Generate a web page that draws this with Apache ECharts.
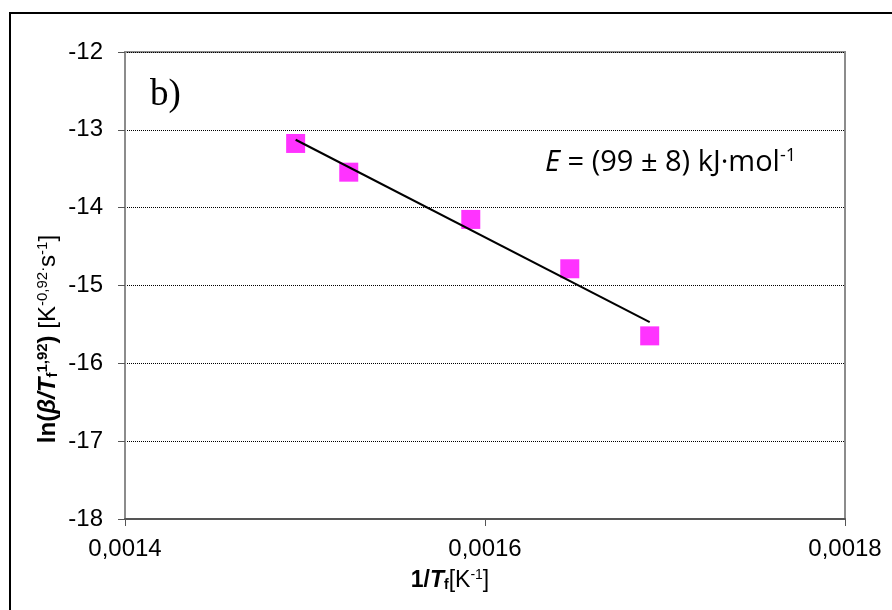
<!DOCTYPE html>
<html>
<head>
<meta charset="utf-8">
<script src="https://cdn.jsdelivr.net/npm/echarts@6/dist/echarts.min.js"></script>
<style>
  html, body { margin: 0; padding: 0; background: #fff; }
  #chart { width: 892px; height: 610px; }
</style>
</head>
<body>
<div id="chart"></div>
<script>
// Reciprocal peak temperature 1/Tf [K^-1]
const inverseTemp = [0.0014948, 0.0015243, 0.0015921, 0.0016471, 0.0016915];
// ln(beta / Tf^1.92)
const lnRate = [-13.175, -13.544, -14.151, -14.785, -15.647];
// Axis tick values
const xTicks = [0.0014, 0.0016, 0.0018];
const yTicks = [-18, -17, -16, -15, -14, -13, -12];

// Least-squares line through the measured points
function linearFit(xs, ys) {
  const n = xs.length;
  const mx = xs.reduce((a, b) => a + b, 0) / n;
  const my = ys.reduce((a, b) => a + b, 0) / n;
  let sxy = 0, sxx = 0;
  for (let i = 0; i < n; i++) {
    sxy += (xs[i] - mx) * (ys[i] - my);
    sxx += (xs[i] - mx) * (xs[i] - mx);
  }
  const slope = sxy / sxx;
  return { slope, intercept: my - slope * mx };
}
const fit = linearFit(inverseTemp, lnRate);
const xLo = Math.min(...inverseTemp), xHi = Math.max(...inverseTemp);
const fitLine = [[xLo, fit.intercept + fit.slope * xLo], [xHi, fit.intercept + fit.slope * xHi]];

const points = inverseTemp.map((x, i) => [x, lnRate[i]]);

const chart = echarts.init(document.getElementById('chart'), null, { renderer: 'canvas' });

const axisFont = 'Liberation Sans, Arial, sans-serif';

// Rich-text styles for axis titles: main text, subscript and superscript
function titleRich(size, smallSize, lineH) {
  const base = { fontFamily: axisFont, color: '#000' };
  return {
    b:    Object.assign({}, base, { fontSize: size, fontWeight: 'bold', lineHeight: lineH, verticalAlign: 'bottom' }),
    bi:   Object.assign({}, base, { fontSize: size, fontWeight: 'bold', fontStyle: 'italic', lineHeight: lineH, verticalAlign: 'bottom' }),
    n:    Object.assign({}, base, { fontSize: size, lineHeight: lineH, verticalAlign: 'bottom' }),
    sub:  Object.assign({}, base, { fontSize: smallSize, fontWeight: 'bold', verticalAlign: 'bottom' }),
    bsup: Object.assign({}, base, { fontSize: smallSize, fontWeight: 'bold', verticalAlign: 'top' }),
    sup:  Object.assign({}, base, { fontSize: smallSize, verticalAlign: 'top' })
  };
}

chart.setOption({
  animation: false,
  backgroundColor: '#fff',
  grid: {
    left: 125, right: 47, top: 52, bottom: 91,
    show: true, borderColor: '#8c8c8c', borderWidth: 2, backgroundColor: 'transparent'
  },
  xAxis: {
    type: 'value',
    min: xTicks[0], max: xTicks[xTicks.length - 1], interval: 0.0002,
    axisLine: { show: true, onZero: false, lineStyle: { color: '#555', width: 2 } },
    axisTick: { show: true, length: 7, lineStyle: { color: '#555', width: 1 } },
    axisLabel: {
      margin: 18, fontSize: 24, fontFamily: axisFont, color: '#000',
      formatter: (v) => v.toFixed(4).replace('.', ',')
    },
    splitLine: { show: false }
  },
  yAxis: {
    type: 'value',
    min: yTicks[0], max: yTicks[yTicks.length - 1], interval: 1,
    axisLine: { show: true, lineStyle: { color: '#8c8c8c', width: 2 } },
    axisTick: { show: true, length: 7, lineStyle: { color: '#555', width: 1 } },
    axisLabel: {
      margin: 22, fontSize: 24, fontFamily: axisFont, color: '#000',
      formatter: (v) => String(v)
    },
    splitLine: { show: true, lineStyle: { color: '#000', width: 1, type: [1, 1] } }
  },
  series: [
    {
      type: 'scatter',
      data: points,
      symbol: 'rect',
      symbolSize: 19,
      itemStyle: { color: '#ff00ff' },
      z: 2
    },
    {
      type: 'line',
      data: fitLine,
      showSymbol: false,
      lineStyle: { color: '#000', width: 2 },
      z: 3
    }
  ],
  graphic: [
    {
      type: 'rect', silent: true,
      shape: { x: 10, y: 13, width: 900, height: 620 },
      style: { fill: 'none', stroke: '#000', lineWidth: 2 }
    },
    {
      type: 'text', left: 150, top: 77,
      style: { text: 'b)', font: '37px "Liberation Serif", "Times New Roman", serif', fill: '#000' }
    },
    {
      type: 'text', x: 545, y: 147,
      style: {
        text: '{i|E}{n| = (99 ± 8) kJ·mol}{s|-1}',
        rich: {
          i: { fontSize: 29, fontStyle: 'italic', fontFamily: 'Open Sans, sans-serif', color: '#000', lineHeight: 30, verticalAlign: 'bottom' },
          n: { fontSize: 29, fontFamily: 'Open Sans, sans-serif', color: '#000', lineHeight: 30, verticalAlign: 'bottom' },
          s: { fontSize: 18, fontFamily: 'Open Sans, sans-serif', color: '#000', verticalAlign: 'top' }
        }
      }
    },
    {
      type: 'text', x: 450, y: 580,
      style: {
        text: '{b|1/}{bi|T}{sub|f}{n|[K}{sup|-1}{n|]}',
        align: 'center', verticalAlign: 'middle',
        rich: titleRich(23, 14, 24)
      }
    },
    {
      type: 'text', x: 48, y: 339, rotation: Math.PI / 2,
      style: {
        text: '{b|ln(}{bi|β/T}{sub|f}{bsup|1,92}{b|)}{n| [K}{sup|-0,92·}{n|s}{sup|-1}{n|]}',
        align: 'center', verticalAlign: 'middle',
        rich: titleRich(24, 15, 25)
      }
    }
  ]
});
</script>
</body>
</html>
